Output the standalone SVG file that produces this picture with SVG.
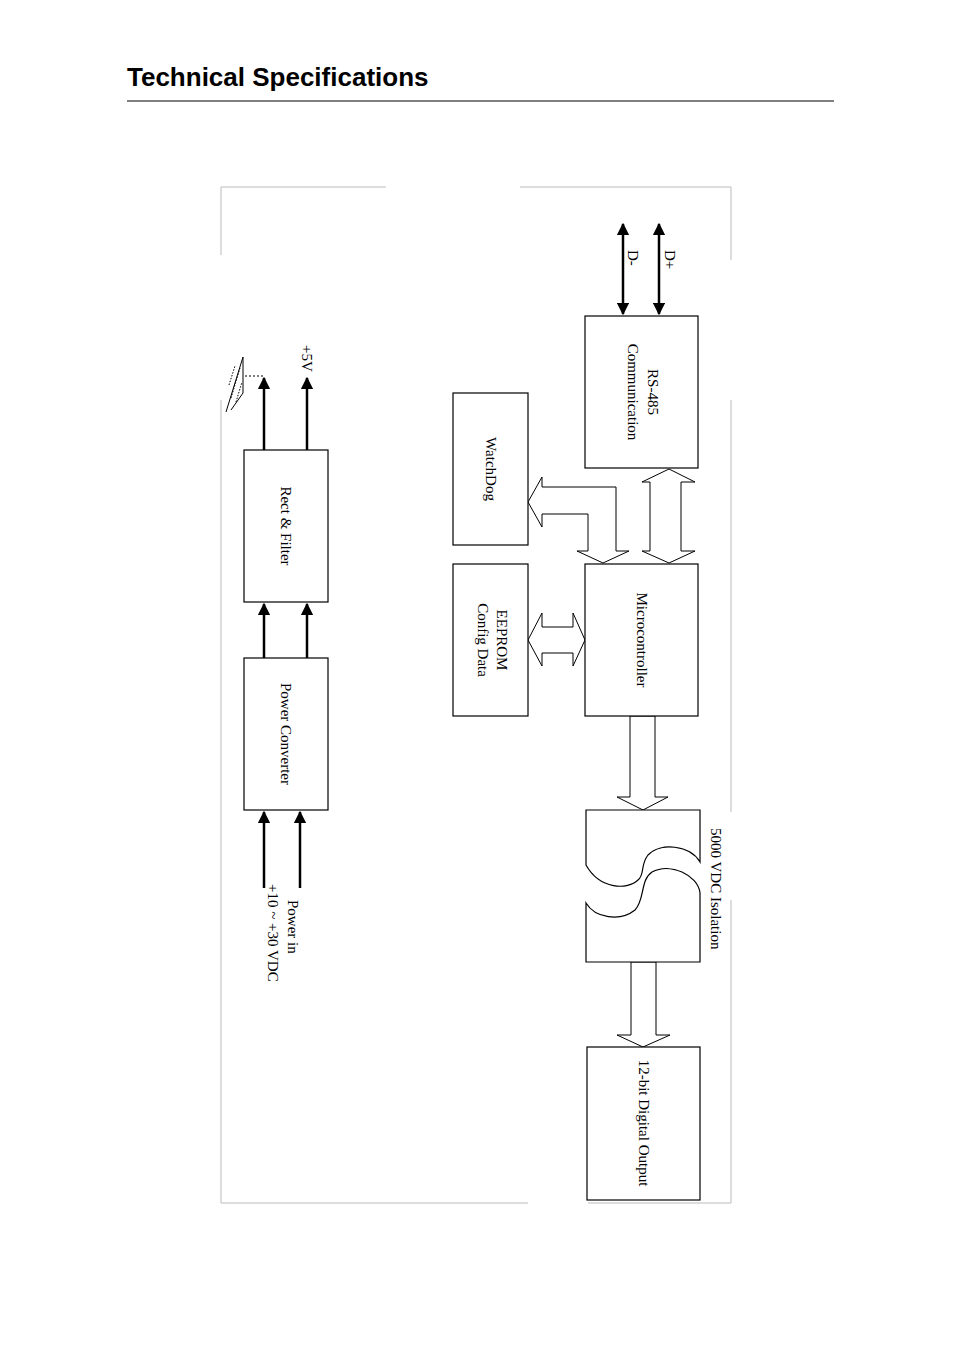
<svg xmlns="http://www.w3.org/2000/svg" width="954" height="1356" viewBox="0 0 954 1356">
<style>
.b{fill:#fff;stroke:#000;stroke-width:1.2}
.fa{fill:#fff;stroke:#000;stroke-width:1}
.ln{stroke:#000;stroke-width:2.5;fill:none}
.fr{stroke:#bbb;stroke-width:1;fill:none}
.t{font-family:"Liberation Serif",serif;font-size:15px;fill:#000}
</style>
<defs>
<marker id="ah" viewBox="0 0 10 10" refX="9" refY="5" markerWidth="5" markerHeight="5" orient="auto-start-reverse"><path d="M0,0L10,5L0,10z" fill="#000"/></marker>
</defs>
<rect width="954" height="1356" fill="#fff"/>
<text x="127" y="86" font-family="Liberation Sans,Arial,sans-serif" font-size="26" font-weight="bold">Technical Specifications</text>
<line x1="127" y1="101" x2="834" y2="101" stroke="#000" stroke-width="1"/>
<g id="frame" class="fr">
<path d="M221,187H386M520,187H731V260M731,400V812M731,900V1203H588M528,1203H221V400M221,187V255"/>
</g>
<g id="connectors">
<line class="ln" x1="264" y1="450" x2="264" y2="378" marker-end="url(#ah)"/>
<line class="ln" x1="307" y1="450" x2="307" y2="378" marker-end="url(#ah)"/>
<path d="M263,376H245" stroke="#000" stroke-dasharray="2,2" fill="none"/>
<line class="ln" x1="264" y1="658" x2="264" y2="604" marker-end="url(#ah)"/>
<line class="ln" x1="307" y1="658" x2="307" y2="604" marker-end="url(#ah)"/>
<line class="ln" x1="264" y1="888" x2="264" y2="812" marker-end="url(#ah)"/>
<line class="ln" x1="300" y1="888" x2="300" y2="812" marker-end="url(#ah)"/>
<line class="ln" x1="623" y1="314" x2="623" y2="224" marker-start="url(#ah)" marker-end="url(#ah)"/>
<line class="ln" x1="659" y1="314" x2="659" y2="224" marker-start="url(#ah)" marker-end="url(#ah)"/>
<polygon class="fa" points="669,469 695,482 681,482 681,551 695,551 669,563 642,551 650,551 650,482 642,482"/>
<polygon class="fa" points="528,502 542,477 542,487 616,487 616,551 629,551 603,563 577,551 588,551 588,514 542,514 542,527"/>
<polygon class="fa" points="528,640 542,613 542,627 573,627 573,613 585,640 573,666 573,653 542,653 542,666"/>
<polygon class="fa" points="630,716 655,716 655,797 668,797 643,810 617,797 630,797"/>
<polygon class="fa" points="631,962 656,962 656,1035 670,1035 643,1047 617,1035 631,1035"/>
</g>
<g id="ground" stroke="#000" stroke-width="1" fill="none">
<path d="M226,412L243,357V393L231,410M243,357"/>
<path d="M231,398L240,368M236,402L242,382M229,385L235,366" stroke-dasharray="1.5,1.5"/>
</g>
<text class="t" transform="translate(302,345) rotate(90)">+5V</text>
<g id="rect"><rect class="b" x="244" y="450" width="84" height="152"/><text class="t" transform="translate(281,526) rotate(90)" text-anchor="middle">Rect &amp; Filter</text></g>
<g id="power"><rect class="b" x="244" y="658" width="84" height="152"/><text class="t" transform="translate(281,734) rotate(90)" text-anchor="middle">Power Converter</text></g>
<g id="powerin">
<text class="t" transform="translate(288,900) rotate(90)">Power in</text>
<text class="t" transform="translate(268,884) rotate(90)">+10 ~ +30 VDC</text>
</g>
<g id="rs485"><rect class="b" x="585" y="316" width="113" height="152"/>
<text class="t" transform="translate(648,392) rotate(90)" text-anchor="middle">RS-485</text>
<text class="t" transform="translate(628,392) rotate(90)" text-anchor="middle">Communication</text></g>
<text class="t" transform="translate(628,250) rotate(90)">D-</text>
<text class="t" transform="translate(665,250) rotate(90)">D+</text>
<g id="watchdog"><rect class="b" x="453" y="393" width="75" height="152"/><text class="t" transform="translate(486,469) rotate(90)" text-anchor="middle">WatchDog</text></g>
<g id="eeprom"><rect class="b" x="453" y="564" width="75" height="152"/>
<text class="t" transform="translate(497,640) rotate(90)" text-anchor="middle">EEPROM</text>
<text class="t" transform="translate(478,640) rotate(90)" text-anchor="middle">Config Data</text></g>
<g id="micro"><rect class="b" x="585" y="564" width="113" height="152"/><text class="t" transform="translate(637,640) rotate(90)" text-anchor="middle">Microcontroller</text></g>
<g id="isolation">
<path class="b" d="M586,810H700V862C690,845 660,842 648,855C640,865 645,875 638,880C628,890 600,890 586,865Z"/>
<path class="b" d="M586,962H700V893C698,875 670,862 652,872C640,880 645,900 635,910C620,922 595,918 586,903Z"/>
<text class="t" transform="translate(711,828) rotate(90)">5000 VDC Isolation</text>
</g>
<g id="output"><rect class="b" x="587" y="1047" width="113" height="153"/><text class="t" transform="translate(639,1123) rotate(90)" text-anchor="middle">12-bit Digital Output</text></g>
</svg>
